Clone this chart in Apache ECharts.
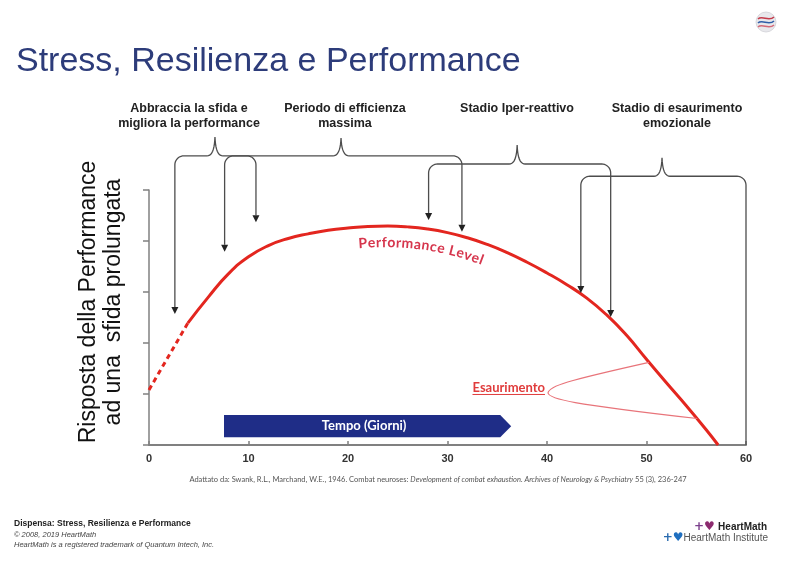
<!DOCTYPE html>
<html><head><meta charset="utf-8">
<script src="https://cdn.jsdelivr.net/npm/echarts@6/dist/echarts.min.js"></script>
<style>html,body{margin:0;padding:0;background:#fff}#c{width:800px;height:575px}</style>
</head><body><div id="c"></div>
<script>
// ---------- data ----------
const xTickLabels = ['0','10','20','30','40','50','60'];
const dashedX = [0, 3.9];
const dashedY = [1.08, 2.39];
const curveX = [3.9,6,8,10,12,14,16,18,20,22,24,26,28,30,32,34,36,38,40,42,44,46,48,50,52,54,56,57.2];
const curveY = [2.39,2.91,3.36,3.69,3.91,4.05,4.14,4.21,4.255,4.285,4.293,4.277,4.235,4.164,4.063,3.932,3.771,3.583,3.373,3.143,2.88,2.55,2.15,1.68,1.22,0.77,0.30,0];

// ---------- annotations (data units) ----------
const stageLabels = ['Abbraccia la sfida e\nmigliora la performance','Periodo di efficienza\nmassima','Stadio Iper-reattivo','Stadio di esaurimento\nemozionale'];
const bracketLeftX  = [2.6, 7.6, 28.1, 43.4];
const bracketRightX = [10.75, 31.45, 46.4, 60];
const bracketPeakX  = [6.63, 19.3, 37.0, 51.56];
const bracketBarY   = [5.67, 5.67, 5.51, 5.27];
const bracketTopY   = [6.04, 6.02, 5.88, 5.63];
const leftTipY      = [2.57, 3.79, 4.41, 2.98];
const rightTipY     = [4.37, 4.18, 2.51, 0];
const rightArrow    = [true, true, true, false];
const tempoX = [7.54, 35.3, 36.4];     // start, body end, tip
const tempoY = [0.59, 0.15];           // top, bottom
const exhaustTip = [40.1, 1.02];
const exhaustUpper = [50.25, 1.62];
const exhaustLower = [55.1, 0.52];
const perfLabelStartX = 21.0;

const chart = echarts.init(document.getElementById('c'), null, {renderer:'canvas'});
const zip = (xs, ys) => xs.map((x, i) => [x, ys[i]]);
const RED = '#e3261f';
const option = {
  animation: false,
  backgroundColor: '#fff',
  grid: {left:149, right:54, top:190, bottom:130, containLabel:false},
  xAxis: {
    type:'value', min:0, max:60, interval:10,
    axisLine:{lineStyle:{color:'#808080', width:2}},
    axisTick:{inside:true, length:4, lineStyle:{color:'#808080', width:1.5}},
    axisLabel:{color:'#333', fontWeight:'bold', fontSize:11, fontFamily:'Liberation Sans', margin:8,
      formatter: v => xTickLabels[Math.round(v/10)]},
    splitLine:{show:false}
  },
  yAxis: {
    type:'value', min:0, max:5, interval:1,
    axisLine:{show:true, lineStyle:{color:'#808080', width:1.5}},
    axisTick:{show:true, length:6, lineStyle:{color:'#808080', width:1.5}},
    axisLabel:{show:false}, splitLine:{show:false}
  },
  series: [
    {type:'line', data: zip(dashedX, dashedY), symbol:'none', silent:true,
     lineStyle:{color:RED, width:3, type:[5,4]}},
    {type:'line', data: zip(curveX, curveY), symbol:'none', smooth:0.5, silent:true,
     lineStyle:{color:RED, width:3}}
  ]
};
chart.setOption(option);

const P = (x, y) => chart.convertToPixel({xAxisIndex:0, yAxisIndex:0}, [x, y]);
const ctx = document.createElement('canvas').getContext('2d');
const G = [];
function txt(x, y, text, font, fill, align, valign, extra) {
  G.push(Object.assign({type:'text', x, y, silent:true, z:10,
    style:{text, font, fill, align, verticalAlign:valign}}, extra || {}));
}
function cubic(p0,p1,p2,p3,n){const o=[];for(let i=0;i<=n;i++){const t=i/n,u=1-t;o.push([u*u*u*p0[0]+3*u*u*t*p1[0]+3*u*t*t*p2[0]+t*t*t*p3[0],u*u*u*p0[1]+3*u*u*t*p1[1]+3*u*t*t*p2[1]+t*t*t*p3[1]]);}return o;}
function arc(cx,cy,r,a0,a1,n){const o=[];for(let i=0;i<=n;i++){const a=a0+(a1-a0)*i/n;o.push([cx+r*Math.cos(a),cy+r*Math.sin(a)]);}return o;}

// brackets
const BC = '#4d4d4d';
for (let i = 0; i < bracketLeftX.length; i++) {
  const L = P(bracketLeftX[i],0)[0], R = P(bracketRightX[i],0)[0], Pk = P(bracketPeakX[i],0)[0];
  const H = P(0,bracketBarY[i])[1], T = P(0,bracketTopY[i])[1];
  const tl = P(0,leftTipY[i])[1], tr = P(0,rightTipY[i])[1];
  const r = 9, ah = 7;
  let pts = [[L, tl - ah]];
  pts = pts.concat(arc(L+r, H+r, r, Math.PI, 1.5*Math.PI, 10));
  pts = pts.concat(cubic([Pk-8,H],[Pk-3,H],[Pk-0.5,H-6],[Pk,T],10));
  pts = pts.concat(cubic([Pk,T],[Pk+0.5,H-6],[Pk+3,H],[Pk+8,H],10));
  pts = pts.concat(arc(R-r, H+r, r, 1.5*Math.PI, 2*Math.PI, 10));
  pts.push([R, rightArrow[i] ? tr - ah : tr]);
  G.push({type:'polyline', silent:true, z:5, shape:{points:pts}, style:{stroke:BC, lineWidth:1.3, fill:null}});
  const heads = [[L, tl]];
  if (rightArrow[i]) heads.push([R, tr]);
  heads.forEach(h => G.push({type:'polygon', silent:true, z:6,
    shape:{points:[[h[0]-3.5,h[1]-7],[h[0]+3.5,h[1]-7],[h[0],h[1]]]}, style:{fill:'#222'}}));
}

// stage labels
const labelCx = [189, 345, 517, 677];
stageLabels.forEach((s, i) => G.push({type:'text', x:labelCx[i], y:101, silent:true, z:10,
  style:{text:s, font:'bold 12.5px "Liberation Sans"', fill:'#222', align:'center', verticalAlign:'top', lineHeight:15}}));

// title
txt(16, 62, 'Stress, Resilienza e Performance', '34px "Liberation Sans"', '#2d3c7a', 'left', 'middle');

// y axis name
G.push({type:'text', x:101, y:302, rotation:Math.PI/2, silent:true,
  style:{text:'Risposta della Performance\nad una  sfida prolungata', font:'23px "Liberation Sans"', fill:'#111', align:'center', verticalAlign:'middle', lineHeight:25}});

// tempo arrow
{
  const a = P(tempoX[0], tempoY[0]), b = P(tempoX[1], tempoY[0]), c = P(tempoX[2], (tempoY[0]+tempoY[1])/2),
        d = P(tempoX[1], tempoY[1]), e = P(tempoX[0], tempoY[1]);
  G.push({type:'polygon', silent:true, z:4, shape:{points:[a,b,c,d,e]}, style:{fill:'#1f2d87'}});
  txt((a[0]+b[0])/2 + 2, (a[1]+e[1])/2, 'Tempo (Giorni)', 'bold 13px Lato', '#fff', 'center', 'middle');
}

// Esaurimento pointer
{
  const t = P(exhaustTip[0], exhaustTip[1]), u = P(exhaustUpper[0], exhaustUpper[1]), l = P(exhaustLower[0], exhaustLower[1]);
  const pc = '#e8747a';
  G.push({type:'bezierCurve', silent:true, z:5, shape:{x1:t[0],y1:t[1],cpx1:t[0]+1,cpy1:t[1]-7,cpx2:t[0]+18,cpy2:t[1]-12,x2:u[0],y2:u[1]}, style:{stroke:pc, lineWidth:1.2, fill:null}});
  G.push({type:'bezierCurve', silent:true, z:5, shape:{x1:t[0],y1:t[1],cpx1:t[0]+1,cpy1:t[1]+6,cpx2:t[0]+22,cpy2:t[1]+11,x2:l[0],y2:l[1]}, style:{stroke:pc, lineWidth:1.2, fill:null}});
  const f = 'bold 13px Lato';
  ctx.font = f;
  const w = ctx.measureText('Esaurimento').width;
  txt(t[0]-3, t[1]-5, 'Esaurimento', f, '#e03c3c', 'right', 'middle');
  G.push({type:'line', silent:true, z:5, shape:{x1:t[0]-3-w, y1:t[1]+1.5, x2:t[0]-3, y2:t[1]+1.5}, style:{stroke:'#e03c3c', lineWidth:1}});
}

// Performance Level along the curve
{
  const interp = x => { for (let i=0;i<curveX.length-1;i++){ if (x>=curveX[i] && x<=curveX[i+1]) { const k=(x-curveX[i])/(curveX[i+1]-curveX[i]); return curveY[i]+k*(curveY[i+1]-curveY[i]); } } return 0; };
  const raw = [];
  for (let x = 15; x <= 48; x += 0.1) raw.push(P(x, interp(x)));
  const off = 16.5, pts = [];
  for (let i = 0; i < raw.length; i++) {
    const a = raw[Math.max(0,i-8)], b = raw[Math.min(raw.length-1,i+8)];
    let dx = b[0]-a[0], dy = b[1]-a[1]; const n = Math.hypot(dx,dy); dx/=n; dy/=n;
    pts.push({x: raw[i][0] - dy*off, y: raw[i][1] + dx*off, ang: Math.atan2(dy,dx)});
  }
  const cum = [0];
  for (let i = 1; i < pts.length; i++) cum.push(cum[i-1] + Math.hypot(pts[i].x-pts[i-1].x, pts[i].y-pts[i-1].y));
  const startPx = P(perfLabelStartX, 0)[0];
  let s = 0;
  for (let i = 0; i < pts.length; i++) { if (pts[i].x >= startPx) { s = cum[i]; break; } }
  const at = len => { let i = 1; while (i < cum.length-1 && cum[i] < len) i++; const k = (len-cum[i-1])/((cum[i]-cum[i-1])||1); return {x: pts[i-1].x+k*(pts[i].x-pts[i-1].x), y: pts[i-1].y+k*(pts[i].y-pts[i-1].y), ang: pts[i-1].ang+k*(pts[i].ang-pts[i-1].ang)}; };
  const f = 'bold 14px Lato';
  ctx.font = f;
  for (const ch of 'Performance Level') {
    const w = ctx.measureText(ch).width + 0.6;
    const m = at(s + w/2);
    if (ch !== ' ') G.push({type:'text', x:m.x, y:m.y, rotation:-m.ang, silent:true, z:10,
      style:{text:ch, font:f, fill:'#d6364d', align:'center', verticalAlign:'middle'}});
    s += w;
  }
}

// citation
G.push({type:'text', x:438, y:480, silent:true, style:{
  text:'{n|Adattato da: Swank, R.L., Marchand, W.E., 1946. Combat neuroses: }{i|Development of combat exhaustion. Archives of Neurology & Psychiatry}{n| 55 (3), 236-247}',
  align:'center', verticalAlign:'middle',
  rich:{n:{fontFamily:'Lato', fontSize:7.5, fill:'#555'}, i:{fontFamily:'Lato', fontSize:7.5, fontStyle:'italic', fill:'#555'}}}});

// footer
txt(14, 524, 'Dispensa: Stress, Resilienza e Performance', 'bold 8.5px "Liberation Sans"', '#222', 'left', 'middle');
txt(14, 535, '© 2008, 2019 HeartMath', 'italic 7.5px "Liberation Sans"', '#444', 'left', 'middle');
txt(14, 545, 'HeartMath is a registered trademark of Quantum Intech, Inc.', 'italic 7.5px "Liberation Sans"', '#444', 'left', 'middle');

// logos
G.push({type:'text', x:767, y:527, silent:true, style:{text:'{p|+}{h|♥} {t|HeartMath}', align:'right', verticalAlign:'middle',
  rich:{p:{fontSize:12, fontWeight:'bold', fill:'#7b3f8c', fontFamily:'DejaVu Sans'}, h:{fontSize:12, fill:'#8c2b6f', fontFamily:'DejaVu Sans'}, t:{fontSize:10, fontWeight:'bold', fill:'#222', fontFamily:'"Liberation Sans"'}}}});
G.push({type:'text', x:768, y:538, silent:true, style:{text:'{p|+}{h|♥}{t|HeartMath Institute}', align:'right', verticalAlign:'middle',
  rich:{p:{fontSize:12, fontWeight:'bold', fill:'#2b6cb0', fontFamily:'DejaVu Sans'}, h:{fontSize:12, fill:'#1f6fc0', fontFamily:'DejaVu Sans'}, t:{fontSize:10, fill:'#555', fontFamily:'"Liberation Sans"'}}}});
G.push({type:'circle', silent:true, shape:{cx:766, cy:22, r:10}, style:{fill:'#e8e8ec', stroke:'#d0d0d6', lineWidth:0.8}});
[['#c43a4a',18],['#2f5ea8',22],['#d46a78',26]].forEach(w => G.push({type:'bezierCurve', silent:true,
  shape:{x1:758, y1:w[1]+1, cpx1:762, cpy1:w[1]-3, cpx2:769, cpy2:w[1]+4, x2:774, y2:w[1]-1}, style:{stroke:w[0], lineWidth:1.6, fill:null}}));

chart.setOption({graphic: G});
</script></body></html>
